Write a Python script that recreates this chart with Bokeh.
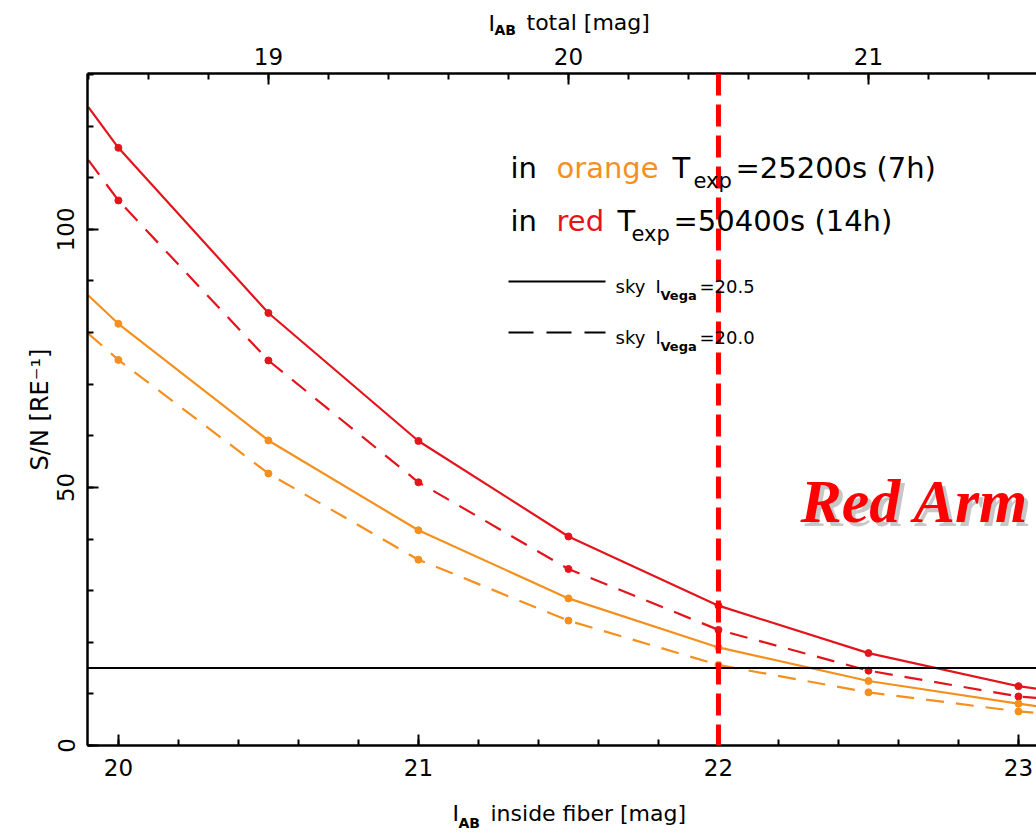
from bokeh.plotting import figure
from bokeh.layouts import column
from bokeh.models import Range1d, LinearAxis, SingleIntervalTicker, Span, Label
from bokeh.embed import file_html
from bokeh.resources import INLINE

# ---------------- data ----------------
# I_AB inside fiber [mag]; first and last entries are the plot edges
fiber_mag = [19.9, 20.0, 20.5, 21.0, 21.5, 22.0, 22.5, 23.0, 23.06]
marker_mag = [20.0, 20.5, 21.0, 21.5, 22.0, 22.5, 23.0]

# S/N per resolution element
red_sky205 = [123.7, 115.8, 83.8, 59.0, 40.5, 27.1, 17.9, 11.5, 11.0]      # 14h, sky 20.5
red_sky200 = [113.4, 105.6, 74.6, 51.0, 34.2, 22.4, 14.5, 9.5, 9.2]        # 14h, sky 20.0
orange_sky205 = [87.2, 81.7, 59.1, 41.7, 28.5, 19.0, 12.5, 8.1, 7.6]       # 7h, sky 20.5
orange_sky200 = [79.8, 74.7, 52.7, 36.0, 24.2, 15.6, 10.3, 6.6, 6.3]       # 7h, sky 20.0

sn_threshold = 15.0
fiber_limit = 22.0
total_offset = 1.5          # I_AB total = I_AB fiber - 1.5

RED = "#e3141c"
ORANGE = "#f5901e"
FONT = "DejaVu Sans"

W, H = 1036, 833
HT = 37                     # strip above holding the top axis title
HB = 40                     # strip below holding the bottom axis title
X0, X1 = 19.897, 23.06
Y0, Y1 = 0.0, 130.2
FL, FR, FT, FB = 87, 1036, 73, 745   # frame pixel box (page pixels)
MID = 0.33                  # baseline -> text middle, in em


def xd(px):
    return X0 + (px - FL) * (X1 - X0) / (FR - FL)


def yd(py):
    return Y0 + (FB - py) * (Y1 - Y0) / (FB - FT)


p = figure(width=W, height=H - HT - HB, x_range=Range1d(X0, X1), y_range=Range1d(Y0, Y1),
           output_backend="svg", toolbar_location=None,
           min_border_left=FL, min_border_right=0, min_border_top=FT - HT,
           min_border_bottom=H - HB - FB)
p.outline_line_color = None
p.xgrid.visible = False
p.ygrid.visible = False
p.background_fill_color = "white"
p.border_fill_color = "white"

xa = p.xaxis[0]
xa.ticker = SingleIntervalTicker(interval=1, num_minor_ticks=5)
ya = p.yaxis[0]
ya.ticker = SingleIntervalTicker(interval=50, num_minor_ticks=5)
ya.major_label_orientation = "vertical"
ya.axis_label = "S/N [RE\u207b\u00b9]"
ya.axis_label_text_font = FONT
ya.axis_label_text_font_size = "24px"
ya.axis_label_text_font_style = "normal"
ya.axis_label_text_color = "black"
ya.axis_label_standoff = 1

p.extra_x_ranges = {"total": Range1d(X0 - total_offset, X1 - total_offset)}
top = LinearAxis(x_range_name="total", ticker=SingleIntervalTicker(interval=1, num_minor_ticks=5))
p.add_layout(top, "above")

for ax in [xa, ya, top]:
    ax.axis_line_width = 2.5
    ax.axis_line_color = "black"
    ax.major_tick_in = 11
    ax.major_tick_out = 0
    ax.minor_tick_in = 6
    ax.minor_tick_out = 0
    ax.major_tick_line_width = 2
    ax.minor_tick_line_width = 2
    ax.major_label_text_font = FONT
    ax.major_label_text_font_size = "23px"
    ax.major_label_text_color = "black"
    ax.major_label_standoff = 13
top.major_label_standoff = 9

curves = [
    (red_sky205, RED, "solid"),
    (red_sky200, RED, "18 12"),
    (orange_sky205, ORANGE, "solid"),
    (orange_sky200, ORANGE, "18 12"),
]
for vals, col, dash in curves:
    p.line(fiber_mag, vals, line_color=col, line_width=2.2, line_dash=dash)
    mvals = [v for m, v in zip(fiber_mag, vals) if m in marker_mag]
    p.scatter(marker_mag, mvals, size=7, color=col, marker="circle")

p.add_layout(Span(location=sn_threshold, dimension="width", line_color="black", line_width=2))
p.add_layout(Span(location=fiber_limit, dimension="height", line_color="#ff0000",
                  line_width=5, line_dash="22 9"))


def lab(text, px, py, size, color="black", font=FONT, style="normal", alpha=1.0):
    # py is the wanted baseline (page pixels); the label is anchored at its middle
    p.add_layout(Label(x=xd(px), y=yd(py - MID * size), text=text, text_font=font,
                       text_font_size=f"{size}px", text_color=color, text_font_style=style,
                       text_alpha=alpha, text_align="left", text_baseline="middle"))


# legend texts
lab("in", 510, 177, 29)
lab("orange", 556, 177, 29, color=ORANGE)
lab("T", 672, 177, 29)
lab("exp", 693, 187, 21)
lab("=25200s (7h)", 735, 177, 29)
lab("in", 510, 230, 29)
lab("red", 556, 230, 29, color=RED)
lab("T", 617, 230, 29)
lab("exp", 631, 240, 21)
lab("=50400s (14h)", 673, 230, 29)

# line-style key
p.line([xd(508), xd(605)], [yd(281), yd(281)], line_color="black", line_width=2)
p.line([xd(508), xd(605)], [yd(332), yd(332)], line_color="black", line_width=2, line_dash="25 13")
lab("sky", 615, 292, 18)
lab("I", 655, 292, 18)
lab("Vega", 660, 299, 13, style="bold")
lab("=20.5", 699, 292, 18)
lab("sky", 615, 343, 18)
lab("I", 655, 343, 18)
lab("Vega", 660, 350, 13, style="bold")
lab("=20.0", 699, 343, 18)

# "Red Arm" with drop shadow
lab("Red Arm", 804, 525, 62, color="#999999", font="Liberation Serif", style="bold italic", alpha=0.55)
lab("Red Arm", 800, 521, 62, color="#ff0000", font="Liberation Serif", style="bold italic")


def strip(top_px, height):
    # a text-only strip whose frame lines up with the main frame (x in page pixels)
    s = figure(width=W, height=height, x_range=Range1d(FL, FR),
               y_range=Range1d(H - top_px - height, H - top_px),
               output_backend="svg", toolbar_location=None,
               min_border_left=FL, min_border_right=0, min_border_top=0, min_border_bottom=0,
               x_axis_location=None, y_axis_location=None)
    s.title = None
    s.grid.visible = False
    s.outline_line_color = None
    s.border_fill_color = "white"
    s.background_fill_color = "white"
    return s


def slab(s, text, px, py, size, style="normal"):
    s.add_layout(Label(x=px, y=H - (py - MID * size), text=text, text_font=FONT,
                       text_font_size=f"{size}px", text_color="black", text_font_style=style,
                       text_align="left", text_baseline="middle"))


t = strip(0, HT)
slab(t, "I", 488, 30, 22)
slab(t, "AB", 494, 34, 14, style="bold")
slab(t, "total [mag]", 526, 29, 22)

b = strip(H - HB, HB)
slab(b, "I", 452, 820, 22)
slab(b, "AB", 458, 827, 14, style="bold")
slab(b, "inside fiber [mag]", 490, 820, 22)

open("out.html", "w").write(file_html(column(t, p, b, spacing=0), INLINE))
